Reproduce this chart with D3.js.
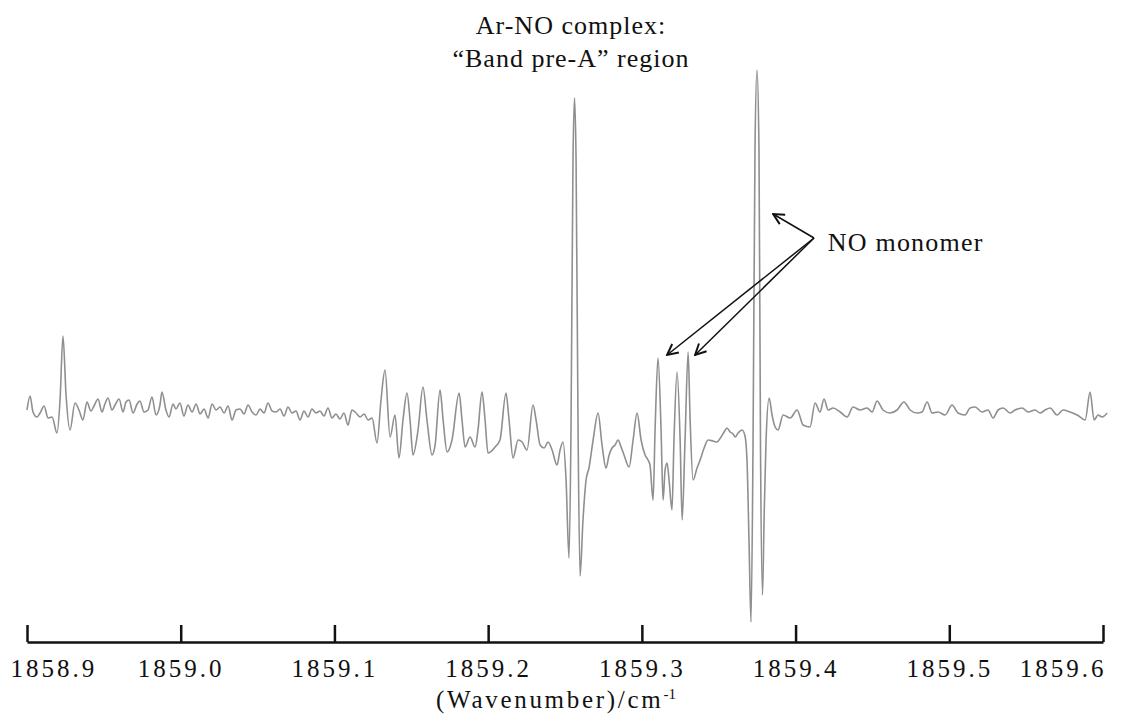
<!DOCTYPE html>
<html>
<head>
<meta charset="utf-8">
<script src="https://cdn.jsdelivr.net/npm/d3@7"></script>
<style>
  body { margin: 0; background: #fff; }
  svg text { font-family: "Liberation Serif", "Times New Roman", serif; fill: #111; }
</style>
</head>
<body>
<script>
// spectrum: [wavenumber / cm-1, signal (arb. units)]
const spectrum = [
  [1858.9000, 0.00], [1858.9020, 0.14], [1858.9039, -0.02], [1858.9065, -0.07], [1858.9085, -0.03],
  [1858.9111, 0.04], [1858.9137, -0.08], [1858.9163, -0.07], [1858.9195, -0.23], [1858.9215, 0.10],
  [1858.9234, 0.74], [1858.9254, 0.15], [1858.9280, -0.20], [1858.9312, 0.07], [1858.9338, 0.00],
  [1858.9364, -0.10], [1858.9390, 0.08], [1858.9416, -0.01], [1858.9436, 0.04], [1858.9462, 0.11],
  [1858.9488, -0.02], [1858.9507, 0.06], [1858.9527, 0.12], [1858.9553, 0.00], [1858.9573, 0.05],
  [1858.9599, 0.11], [1858.9625, -0.02], [1858.9644, 0.08], [1858.9664, 0.10], [1858.9690, -0.03],
  [1858.9716, 0.06], [1858.9735, 0.09], [1858.9761, -0.02], [1858.9787, 0.00], [1858.9813, 0.13],
  [1858.9839, -0.05], [1858.9865, 0.05], [1858.9878, 0.18], [1858.9904, 0.00], [1858.9924, -0.07],
  [1858.9950, 0.06], [1858.9969, 0.01], [1858.9995, 0.07], [1859.0021, -0.06], [1859.0047, 0.05],
  [1859.0074, -0.02], [1859.0100, 0.06], [1859.0126, -0.04], [1859.0152, 0.01], [1859.0178, -0.08],
  [1859.0204, 0.06], [1859.0230, 0.00], [1859.0256, 0.03], [1859.0282, -0.03], [1859.0308, 0.04],
  [1859.0334, -0.10], [1859.0360, 0.00], [1859.0386, 0.01], [1859.0412, -0.04], [1859.0438, 0.05],
  [1859.0464, -0.02], [1859.0490, -0.05], [1859.0516, 0.01], [1859.0542, -0.03], [1859.0568, 0.07],
  [1859.0594, -0.01], [1859.0620, -0.02], [1859.0646, 0.01], [1859.0672, -0.06], [1859.0698, 0.03],
  [1859.0724, -0.03], [1859.0750, -0.01], [1859.0776, -0.10], [1859.0802, -0.01], [1859.0828, -0.07],
  [1859.0854, 0.01], [1859.0880, -0.03], [1859.0906, -0.01], [1859.0932, -0.06], [1859.0958, 0.02],
  [1859.0984, -0.08], [1859.1010, -0.04], [1859.1036, -0.09], [1859.1062, -0.03], [1859.1088, -0.15],
  [1859.1114, 0.00], [1859.1141, -0.03], [1859.1167, -0.07], [1859.1193, -0.04], [1859.1219, -0.10],
  [1859.1245, -0.08], [1859.1277, -0.33], [1859.1303, 0.10], [1859.1329, 0.40],
  // complex band series
  [1859.1362, -0.27], [1859.1394, -0.05], [1859.1420, -0.48], [1859.1446, -0.10], [1859.1472, 0.17],
  [1859.1492, -0.10], [1859.1511, -0.45], [1859.1544, -0.20], [1859.1576, 0.23], [1859.1602, -0.10],
  [1859.1635, -0.45], [1859.1655, -0.35], [1859.1687, 0.20], [1859.1707, -0.10], [1859.1733, -0.42],
  [1859.1765, -0.30], [1859.1811, 0.17], [1859.1830, -0.10], [1859.1850, -0.37], [1859.1882, -0.27],
  [1859.1915, -0.37], [1859.1934, -0.20], [1859.1960, 0.18], [1859.1980, -0.10], [1859.1999, -0.43],
  [1859.2045, -0.37], [1859.2077, -0.30], [1859.2116, 0.17], [1859.2136, -0.10], [1859.2162, -0.48],
  [1859.2195, -0.30], [1859.2221, -0.32], [1859.2253, -0.40], [1859.2292, 0.05], [1859.2312, -0.10],
  [1859.2338, -0.35], [1859.2364, -0.38], [1859.2390, -0.32], [1859.2416, -0.40], [1859.2448, -0.55],
  [1859.2468, -0.40], [1859.2487, -0.32], [1859.2507, -0.70], [1859.2526, -1.48], [1859.2539, -0.20],
  [1859.2552, 2.50], [1859.2562, 3.12], [1859.2572, 2.50], [1859.2585, -0.20], [1859.2598, -1.66],
  [1859.2617, -1.10], [1859.2637, -0.70], [1859.2656, -0.58],
  [1859.2683, -0.30], [1859.2715, -0.03], [1859.2741, -0.35], [1859.2767, -0.58], [1859.2787, -0.45],
  [1859.2806, -0.38], [1859.2826, -0.35], [1859.2845, -0.30], [1859.2865, -0.37], [1859.2884, -0.45],
  [1859.2917, -0.57], [1859.2943, -0.30], [1859.2969, -0.03], [1859.2995, -0.30], [1859.3021, -0.45],
  [1859.3040, -0.50], [1859.3053, -0.55], [1859.3073, -0.90], [1859.3086, -0.20], [1859.3105, 0.52],
  [1859.3125, -0.20], [1859.3138, -0.90], [1859.3151, -0.60], [1859.3164, -0.53], [1859.3177, -0.70],
  [1859.3196, -1.00], [1859.3209, -0.30], [1859.3229, 0.38], [1859.3249, -0.30], [1859.3262, -1.10],
  [1859.3281, -0.30], [1859.3301, 0.58], [1859.3314, -0.10], [1859.3333, -0.70], [1859.3359, -0.58],
  [1859.3379, -0.50], [1859.3405, -0.38], [1859.3431, -0.30], [1859.3463, -0.31], [1859.3489, -0.32],
  [1859.3515, -0.27], [1859.3535, -0.22], [1859.3554, -0.18], [1859.3574, -0.22], [1859.3594, -0.24],
  [1859.3607, -0.27], [1859.3626, -0.23], [1859.3652, -0.20], [1859.3671, -0.26], [1859.3684, -0.50],
  [1859.3697, -1.30], [1859.3710, -2.12], [1859.3723, -0.40], [1859.3736, 2.60], [1859.3749, 3.40],
  [1859.3762, 2.60], [1859.3772, -0.40], [1859.3785, -1.85], [1859.3795, -1.10], [1859.3808, -0.30],
  [1859.3828, 0.12], [1859.3847, -0.05], [1859.3867, -0.17], [1859.3886, -0.20],
  // high-wavenumber side
  [1859.3919, -0.05], [1859.3965, -0.08], [1859.4010, 0.00], [1859.4049, -0.15], [1859.4094, -0.17],
  [1859.4127, 0.07], [1859.4159, -0.02], [1859.4185, 0.11], [1859.4212, 0.00], [1859.4244, 0.02],
  [1859.4290, -0.02], [1859.4335, -0.07], [1859.4374, 0.03], [1859.4420, 0.00], [1859.4465, 0.02],
  [1859.4498, -0.02], [1859.4530, 0.09], [1859.4569, 0.00], [1859.4615, -0.03], [1859.4660, 0.00],
  [1859.4705, 0.08], [1859.4745, 0.00], [1859.4791, -0.03], [1859.4823, -0.02], [1859.4856, 0.08],
  [1859.4888, -0.03], [1859.4927, -0.02], [1859.4973, -0.05], [1859.5018, 0.05], [1859.5057, -0.03],
  [1859.5103, -0.05], [1859.5135, 0.02], [1859.5168, 0.03], [1859.5213, -0.02], [1859.5252, 0.00],
  [1859.5285, -0.08], [1859.5317, 0.00], [1859.5350, 0.02], [1859.5396, -0.03], [1859.5428, 0.00],
  [1859.5474, 0.02], [1859.5513, -0.02], [1859.5558, 0.00], [1859.5591, -0.03], [1859.5623, 0.00],
  [1859.5656, 0.02], [1859.5701, -0.05], [1859.5740, 0.00], [1859.5786, -0.02], [1859.5832, -0.05],
  [1859.5884, -0.10], [1859.5916, 0.18], [1859.5942, -0.10], [1859.5968, -0.05], [1859.5994, -0.07],
  [1859.6027, -0.03]
];

const tickValues = [1858.9, 1859.0, 1859.1, 1859.2, 1859.3, 1859.4, 1859.5, 1859.6];
const titleLines = ["Ar-NO complex:", "\u201cBand pre-A\u201d region"];
const axisTitle = "(Wavenumber)/cm";
const axisTitleSup = "-1";
const monomerLabel = "NO monomer";
// arrows: tail shared near the label, heads on the monomer lines
const arrowTail = [1859.4120, 1.72];
const arrowHeads = [[1859.3854, 1.96], [1859.3164, 0.55], [1859.3346, 0.55]];
const labelAt = [1859.4210, 1.59];

const width = 1135, height = 717;
const serif = "'Liberation Serif', 'Times New Roman', serif";
const svg = d3.select("body").append("svg")
  .attr("width", width)
  .attr("height", height);

const x = d3.scaleLinear().domain([1858.9, 1859.6]).range([27, 1103]);
const y = d3.scaleLinear().domain([-2.32, 4.1]).range([642, 0]);

// spectrum trace
const line = d3.line()
  .x(d => x(d[0]))
  .y(d => y(d[1]))
  .curve(d3.curveMonotoneX);

svg.append("path")
  .datum(spectrum)
  .attr("d", line)
  .attr("fill", "none")
  .attr("stroke", "#8f8f8f")
  .attr("stroke-width", 1.6)
  .attr("stroke-linejoin", "round");

// x axis, ticks pointing up
const axis = svg.append("g")
  .attr("transform", "translate(0,642)")
  .call(d3.axisBottom(x)
    .tickValues(tickValues)
    .tickFormat(d3.format(".1f"))
    .tickSizeInner(-17)
    .tickSizeOuter(0)
    .tickPadding(17));
axis.select(".domain").attr("stroke", "#111").attr("stroke-width", 2.5);
axis.selectAll(".tick line").attr("stroke", "#111").attr("stroke-width", 2.5);
axis.selectAll(".tick text")
  .attr("fill", "#111")
  .style("font-family", serif)
  .style("font-size", "25px")
  .style("letter-spacing", "3px");

// end labels are pulled in so they stay inside the frame
axis.selectAll(".tick text").each(function (d) {
  const w = this.getComputedTextLength();
  const cx = x(d);
  let shift = 0;
  if (cx - w / 2 < 10) shift = 10 - (cx - w / 2);
  if (cx + w / 2 > 1106) shift = 1106 - (cx + w / 2);
  d3.select(this).attr("x", shift);
});

const xt = svg.append("text")
  .attr("x", 556)
  .attr("y", 708)
  .attr("text-anchor", "middle")
  .style("font-family", serif)
  .style("font-size", "25px")
  .style("letter-spacing", "2.7px");
xt.append("tspan").text(axisTitle);
xt.append("tspan").attr("dy", -9).style("font-size", "15px").style("letter-spacing", "0px").text(axisTitleSup);

// title
svg.selectAll(".title")
  .data(titleLines)
  .enter()
  .append("text")
  .attr("class", "title")
  .attr("x", 571)
  .attr("y", (d, i) => 34 + i * 33)
  .attr("text-anchor", "middle")
  .style("font-family", serif)
  .style("font-size", "26px")
  .style("letter-spacing", "1px")
  .text(d => d);

// NO monomer annotation
svg.append("defs").append("marker")
  .attr("id", "head")
  .attr("viewBox", "0 0 12 12")
  .attr("refX", 11)
  .attr("refY", 6)
  .attr("markerWidth", 13)
  .attr("markerHeight", 13)
  .attr("markerUnits", "userSpaceOnUse")
  .attr("orient", "auto")
  .append("path")
  .attr("d", "M1,1L11,6L1,11")
  .attr("fill", "none")
  .attr("stroke", "#111")
  .attr("stroke-width", 1.8);

svg.selectAll(".arrow")
  .data(arrowHeads)
  .enter()
  .append("line")
  .attr("class", "arrow")
  .attr("x1", x(arrowTail[0]))
  .attr("y1", y(arrowTail[1]))
  .attr("x2", d => x(d[0]))
  .attr("y2", d => y(d[1]))
  .attr("stroke", "#111")
  .attr("stroke-width", 1.5)
  .attr("marker-end", "url(#head)");

svg.append("text")
  .attr("x", x(labelAt[0]))
  .attr("y", y(labelAt[1]))
  .style("font-family", serif)
  .style("font-size", "26px")
  .style("letter-spacing", "1.2px")
  .text(monomerLabel);
</script>
</body>
</html>
